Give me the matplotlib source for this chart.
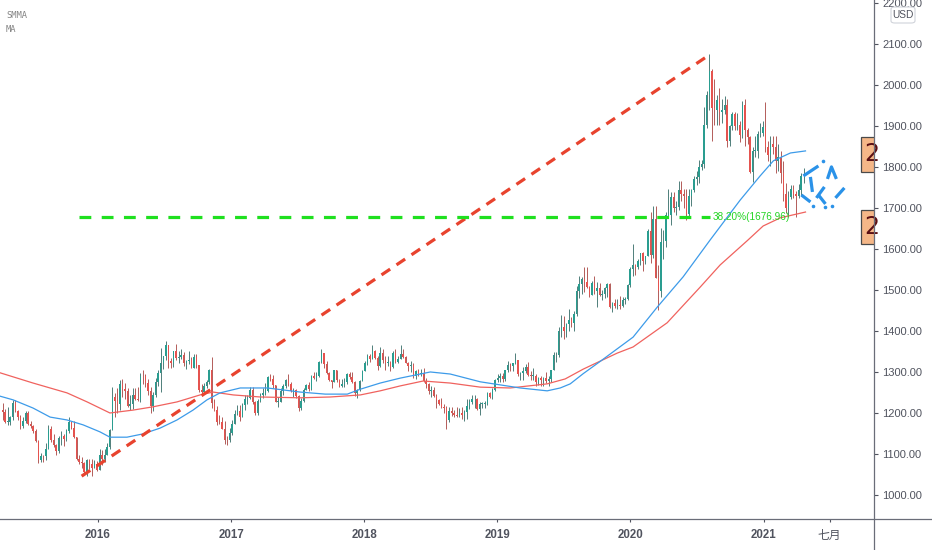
import numpy as np
import pandas as pd
import matplotlib
matplotlib.use("Agg")
import matplotlib.pyplot as plt
import matplotlib.dates as mdates
import matplotlib.transforms as mtransforms
from matplotlib.lines import Line2D
from matplotlib.patches import Rectangle, FancyBboxPatch

plt.rcParams['lines.scale_dashes'] = False
plt.rcParams['font.family'] = ['Liberation Sans', 'DejaVu Sans']

# ---------------- data (weekly XAUUSD candles) ----------------
FIRST_WEEK = '2015-04-13'
PREV_CLOSE = 1207

close_2015 = [1203,1178,1179,1189,1225,1205,1190,1168,1180,1201,1173,1168,1157,1132,1085,1095,1094,1113,1160,1133,
              1121,1108,1138,1145,1137,1156,1177,1163,1142,1088,1081,1077,1056,1086,1075,1065,1076,1061]
high_2015 = [1224,1209,1214,1193,1232,1232,1207,1196,1191,1205,1205,1180,1171,1160,1133,1103,1097,1126,1170,1169,
             1148,1124,1143,1156,1148,1162,1191,1178,1180,1142,1097,1092,1080,1088,1088,1088,1086,1082]
low_2015 = [1183,1175,1170,1170,1182,1203,1184,1162,1164,1175,1170,1164,1151,1130,1077,1080,1080,1085,1112,1130,
            1118,1098,1103,1123,1120,1131,1152,1160,1140,1086,1076,1065,1052,1046,1064,1047,1066,1058]

close_2016 = [1097,1089,1097,1117,1158,1239,1230,1221,1271,1259,1254,1217,1222,1243,1235,1232,1290,1289,1272,1253,
              1216,1243,1275,1298,1322,1339,1366,1327,1322,1350,1335,1336,1341,1321,1327,1328,1310,1337,1316,1257,
              1251,1267,1276,1304,1225,1208,1178,1177,1161,1134,1133,1152]
high_2016 = [1112,1110,1112,1128,1160,1263,1248,1261,1280,1284,1272,1260,1244,1260,1262,1263,1297,1304,1295,1284,
             1264,1250,1285,1304,1358,1340,1375,1358,1333,1352,1367,1352,1357,1348,1330,1352,1336,1343,1343,1317,
             1271,1273,1280,1308,1337,1233,1216,1195,1191,1180,1143,1163]
low_2016 = [1062,1074,1080,1097,1112,1158,1191,1200,1208,1240,1233,1214,1208,1210,1231,1230,1228,1270,1263,1243,
            1200,1205,1240,1265,1252,1307,1330,1310,1310,1313,1330,1322,1332,1315,1307,1320,1310,1309,1310,1250,
            1241,1251,1262,1270,1211,1205,1171,1172,1160,1124,1122,1129]

close_2017 = [1173,1197,1204,1191,1220,1234,1236,1257,1226,1201,1229,1243,1249,1254,1288,1284,1268,1227,1228,1254,
              1267,1280,1271,1254,1256,1242,1212,1229,1255,1268,1258,1289,1285,1291,1325,1346,1320,1297,1280,1275,
              1304,1280,1266,1270,1275,1294,1288,1276,1248,1257,1278,1303]
high_2017 = [1183,1207,1220,1219,1225,1245,1244,1264,1264,1230,1234,1248,1261,1274,1289,1296,1292,1269,1240,1262,
             1270,1282,1296,1276,1261,1258,1244,1236,1260,1271,1275,1293,1300,1299,1327,1357,1339,1326,1300,1281,
             1306,1306,1282,1283,1286,1297,1299,1300,1279,1258,1280,1305]
low_2017 = [1146,1172,1195,1180,1189,1207,1222,1234,1223,1195,1195,1226,1236,1244,1250,1277,1261,1227,1214,1226,
            1245,1260,1267,1252,1240,1237,1206,1207,1228,1255,1253,1256,1282,1279,1288,1322,1310,1294,1278,1260,
            1275,1275,1263,1263,1264,1270,1282,1274,1242,1236,1253,1277]

close_2018 = [1322,1338,1332,1350,1333,1315,1347,1330,1322,1324,1312,1347,1325,1332,1345,1336,1323,1314,1318,1291,
              1302,1294,1298,1279,1270,1253,1255,1241,1231,1222,1214,1212,1184,1206,1200,1194,1193,1199,1196,1203,
              1217,1227,1233,1233,1209,1222,1222,1222,1248,1238,1256,1280,1285]
high_2018 = [1326,1345,1345,1366,1354,1340,1361,1356,1340,1340,1326,1350,1356,1340,1365,1355,1338,1325,1326,1322,
             1305,1308,1307,1309,1285,1274,1265,1263,1247,1235,1237,1222,1218,1215,1214,1207,1215,1211,1214,1208,
             1233,1235,1243,1243,1237,1226,1228,1230,1250,1252,1261,1283,1295]
low_2018 = [1302,1317,1324,1331,1331,1306,1313,1323,1304,1315,1302,1309,1322,1323,1331,1335,1322,1302,1301,1286,
            1282,1289,1289,1276,1262,1247,1238,1238,1211,1219,1211,1200,1160,1179,1192,1190,1189,1191,1186,1181,
            1185,1210,1221,1211,1208,1196,1211,1213,1220,1236,1235,1253,1275]

close_2019 = [1289,1282,1304,1318,1314,1322,1328,1294,1298,1302,1313,1292,1291,1291,1276,1286,1281,1285,1277,1284,
              1305,1341,1342,1399,1409,1399,1416,1426,1419,1441,1497,1514,1527,1520,1507,1488,1517,1497,1504,1488,
              1490,1505,1514,1459,1468,1462,1463,1460,1476,1478,1511,1552]
high_2019 = [1298,1298,1304,1326,1321,1322,1346,1330,1300,1311,1320,1324,1302,1310,1296,1287,1289,1288,1299,1290,
             1306,1348,1348,1410,1439,1437,1419,1453,1433,1449,1510,1535,1531,1555,1557,1510,1522,1535,1519,1518,
             1500,1507,1517,1516,1470,1477,1478,1485,1482,1482,1515,1555]
low_2019 = [1276,1276,1278,1300,1303,1302,1320,1290,1280,1280,1297,1291,1280,1281,1266,1268,1266,1267,1272,1266,
            1275,1306,1324,1337,1386,1381,1386,1400,1410,1400,1437,1480,1491,1494,1505,1484,1492,1489,1459,1485,
            1476,1480,1483,1456,1446,1455,1453,1454,1459,1465,1475,1507]

close_2020 = [1560,1557,1571,1589,1570,1584,1643,1585,1674,1530,1498,1617,1620,1683,1683,1727,1700,1702,1743,1735,
              1730,1685,1730,1743,1771,1775,1799,1808,1902,1975,2035,1944,1940,1964,1934,1940,1950,1862,1900,1930,
              1899,1902,1879,1951,1889,1872,1788,1839,1839,1881,1883,1898]
high_2020 = [1611,1563,1575,1590,1592,1584,1649,1689,1704,1704,1560,1650,1645,1690,1747,1738,1740,1716,1765,1765,
             1745,1745,1745,1746,1779,1789,1818,1817,1945,1984,2075,2039,2015,1976,1992,1966,1973,1965,1903,1933,
             1933,1931,1911,1960,1965,1894,1876,1849,1875,1887,1906,1913]
low_2020 = [1535,1536,1550,1562,1547,1563,1582,1565,1577,1530,1451,1483,1576,1604,1680,1659,1690,1682,1694,1717,
            1700,1670,1680,1704,1740,1757,1760,1792,1798,1896,1940,1863,1902,1903,1902,1906,1930,1849,1850,1889,
            1890,1890,1860,1870,1850,1855,1785,1764,1823,1822,1874,1876]

close_2021 = [1849,1828,1856,1848,1814,1823,1784,1734,1699,1727,1745,1733,1729,1744,1777,1777]
high_2021 = [1959,1864,1875,1875,1875,1855,1838,1815,1760,1741,1755,1756,1742,1758,1784,1797]
low_2021 = [1836,1815,1803,1832,1784,1790,1761,1718,1687,1677,1721,1725,1677,1724,1730,1760]

# Moving averages (decimal years, price)
ma_years = [2015.266,2015.364,2015.514,2015.642,2015.769,2015.890,2016.017,2016.092,2016.220,2016.340,
            2016.468,2016.596,2016.716,2016.821,2016.919,2017.069,2017.272,2017.520,2017.708,2017.873,
            2017.971,2018.121,2018.271,2018.497,2018.647,2018.873,2019.173,2019.376,2019.474,2019.549,
            2019.647,2019.775,2020.022,2020.203,2020.398,2020.601,2020.826,2020.976,2021.074,2021.202,2021.315]
ma_values = [1241,1232,1212,1190,1183,1171,1154,1141,1141,1149,
             1163,1183,1207,1232,1249,1261,1261,1251,1246,1246,
             1258,1273,1285,1300,1295,1276,1261,1254,1261,1271,
             1296,1326,1385,1458,1532,1622,1719,1778,1815,1834,1839]

smma_years = [2015.266,2015.514,2015.769,2015.920,2016.092,2016.265,2016.415,2016.596,2016.769,2016.867,
              2017.017,2017.220,2017.520,2017.745,2017.971,2018.121,2018.271,2018.444,2018.647,2018.873,
              2019.098,2019.376,2019.511,2019.647,2019.902,2020.022,2020.278,2020.526,2020.676,2020.879,
              2020.999,2021.127,2021.315]
smma_values = [1298,1273,1249,1227,1200,1207,1215,1227,1244,1251,
               1244,1239,1237,1239,1244,1254,1266,1278,1273,1263,
               1261,1271,1283,1307,1346,1361,1420,1507,1561,1620,
               1656,1676,1690]

# Drawings
trend_dates = ['2015-11-18', '2020-08-05']
trend_prices = [1046, 2073]
fib_dates = ['2015-11-12', '2020-08-07']
fib_level = 1676.96
fib_label = '38.20%(1676.96)'
fib_label_date = '2020-08-15'
doodle_segments = [
    ([2021.299, 2021.412], [1778.0, 1802.4]),
    ([2021.480, 2021.510, 2021.547], [1770.7, 1800.0, 1770.7]),
    ([2021.540, 2021.607], [1724.4, 1748.8]),
    ([2021.284, 2021.352], [1731.7, 1714.6]),
    ([2021.352, 2021.367], [1775.6, 1739.0]),
    ([2021.397, 2021.457], [1724.4, 1751.2]),
    ([2021.412, 2021.465], [1731.7, 1709.8]),
]
doodle_dots_years = [2021.449, 2021.374, 2021.465, 2021.517]
doodle_dots_prices = [1814.6, 1704.9, 1702.4, 1704.9]
label_boxes = [(1788, 1873, '2'), (1612, 1695, '2')]

y_ticks = [1000,1100,1200,1300,1400,1500,1600,1700,1800,1900,2000,2100,2200]
x_tick_dates = ['2016-01-01','2017-01-01','2018-01-01','2019-01-01','2020-01-01','2021-01-01','2021-07-01']
x_tick_labels = ['2016','2017','2018','2019','2020','2021','七月']


def yr2num(years):
    years = np.asarray(years, float)
    base = np.array([mdates.date2num(pd.Timestamp(int(np.floor(y)), 1, 1)) for y in years])
    return base + (years - np.floor(years)) * 365.25


# ---------------- figure ----------------
W, H = 932, 550
fig = plt.figure(figsize=(W/100, H/100), dpi=100)
fig.patch.set_facecolor('white')
AX_R = 874
AX_B = 519
ax = fig.add_axes([0, (H-AX_B)/H, AX_R/W, AX_B/H])
ax.set_facecolor('white')

C = np.array(close_2015+close_2016+close_2017+close_2018+close_2019+close_2020+close_2021, float)
Hh = np.array(high_2015+high_2016+high_2017+high_2018+high_2019+high_2020+high_2021, float)
Ll = np.array(low_2015+low_2016+low_2017+low_2018+low_2019+low_2020+low_2021, float)
if not (len(C) == len(Hh) == len(Ll)):
    raise ValueError(f"length mismatch {len(C)} {len(Hh)} {len(Ll)}")
O = np.r_[PREV_CLOSE, C[:-1]]
Hh = np.maximum(Hh, np.maximum(O, C))
Ll = np.minimum(Ll, np.minimum(O, C))
weeks = pd.date_range(FIRST_WEEK, periods=len(C), freq='7D')
xw = mdates.date2num(weeks) + 2.0

GREEN = '#2a9d90'
RED = '#e5534f'
up = C >= O
cols = np.where(up, GREEN, RED)
wick_cols = np.where(up, '#4f7f7a', '#b35c59')
ax.vlines(xw, Ll, Hh, colors=wick_cols, linewidth=0.7, zorder=2)
body = np.maximum(np.abs(C - O), 1.5)
ax.bar(xw, body, bottom=np.minimum(O, C), width=4.0, color=cols, linewidth=0, zorder=3)

# moving averages
ax.plot(yr2num(smma_years), smma_values, color='#f0625e', lw=0.9, zorder=4)
ax.plot(yr2num(ma_years), ma_values, color='#3d9be9', lw=0.9, zorder=4)

# trend line
l = Line2D(mdates.datestr2num(trend_dates), trend_prices, color='#e8432e', lw=2.3, zorder=5)
l.set_dashes((7.5, 5.5))
ax.add_line(l)

# fib level
fl = Line2D(mdates.datestr2num(fib_dates), [fib_level, fib_level], color='#1fe01f', lw=2.3, zorder=5)
fl.set_dashes((8.5, 7.5))
ax.add_line(fl)
ax.text(mdates.datestr2num(fib_label_date), fib_level, fib_label, color='#22d422', fontsize=7.2,
        va='center', ha='left', zorder=6)

# doodle
DC = '#2a92e8'
for yrs, p in doodle_segments:
    ax.plot(yr2num(yrs), p, color=DC, lw=2.3, zorder=6, solid_capstyle='butt')
ax.plot(yr2num(doodle_dots_years), doodle_dots_prices, linestyle='none', marker='o', ms=2.6,
        color=DC, mec='none', zorder=6)

# limits
ax.set_xlim(mdates.datestr2num('2015-04-08'), mdates.datestr2num('2021-10-31'))
ax.set_ylim(941.5, 2207)

for s in ax.spines.values():
    s.set_visible(False)

AXC = '#50535e'
ax.yaxis.tick_right()
ax.set_yticks(y_ticks)
ax.set_yticklabels([f'{v:.2f}' for v in y_ticks])
ax.tick_params(axis='y', direction='out', length=3, width=0.8, colors=AXC, labelsize=8, pad=3)

ax.set_xticks(mdates.datestr2num(x_tick_dates))
ax.set_xticklabels(x_tick_labels)
ax.tick_params(axis='x', direction='out', length=2.5, width=0.8, colors=AXC, labelsize=8.3, pad=5)
for t in ax.get_xticklabels():
    if t.get_text() == '七月':
        t.set_fontfamily(['Noto Sans CJK SC', 'DejaVu Sans'])
        t.set_fontweight('normal')
        t.set_fontsize(8.5)
    else:
        t.set_fontweight('bold')

# axis lines spanning the whole figure
fig.add_artist(Line2D([AX_R/W, AX_R/W], [0, 1], transform=fig.transFigure, color='#6a6d78', lw=0.9))
fig.add_artist(Line2D([0, 1], [(H-AX_B)/H, (H-AX_B)/H], transform=fig.transFigure, color='#6a6d78', lw=0.9))

# price label boxes at right edge
trans = mtransforms.blended_transform_factory(ax.transAxes, ax.transData)
for lo, hi, txt in label_boxes:
    r = Rectangle((861/AX_R, lo), 1 - 861/AX_R + 0.01, hi - lo, transform=trans, facecolor='#f5b788',
                  edgecolor='#4a4a4a', lw=0.9, zorder=7, clip_on=True)
    ax.add_patch(r)
    t = ax.text(864/AX_R, (lo+hi)/2, txt, transform=trans, fontsize=17, color='#5a0f14',
                va='center', ha='left', zorder=8, family='DejaVu Sans')
    t.set_clip_path(r)

# USD box
ub = FancyBboxPatch((891/W, 1-23/H), 24/W, 16/H, boxstyle='round,pad=0,rounding_size=0.004',
                    transform=fig.transFigure, facecolor='white', edgecolor='#d0d3da', lw=0.8)
fig.add_artist(ub)
fig.text(903/W, 1-15/H, 'USD', fontsize=7.3, color=AXC, ha='center', va='center')

# indicator names
fig.text(6/W, 1-16/H, 'SMMA', fontsize=6.3, color='#858585', family='DejaVu Sans Mono', va='center')
fig.text(6/W, 1-30/H, 'MA', fontsize=6.3, color='#858585', family='DejaVu Sans Mono', va='center')

fig.savefig('out.png', dpi=100, facecolor='white')
